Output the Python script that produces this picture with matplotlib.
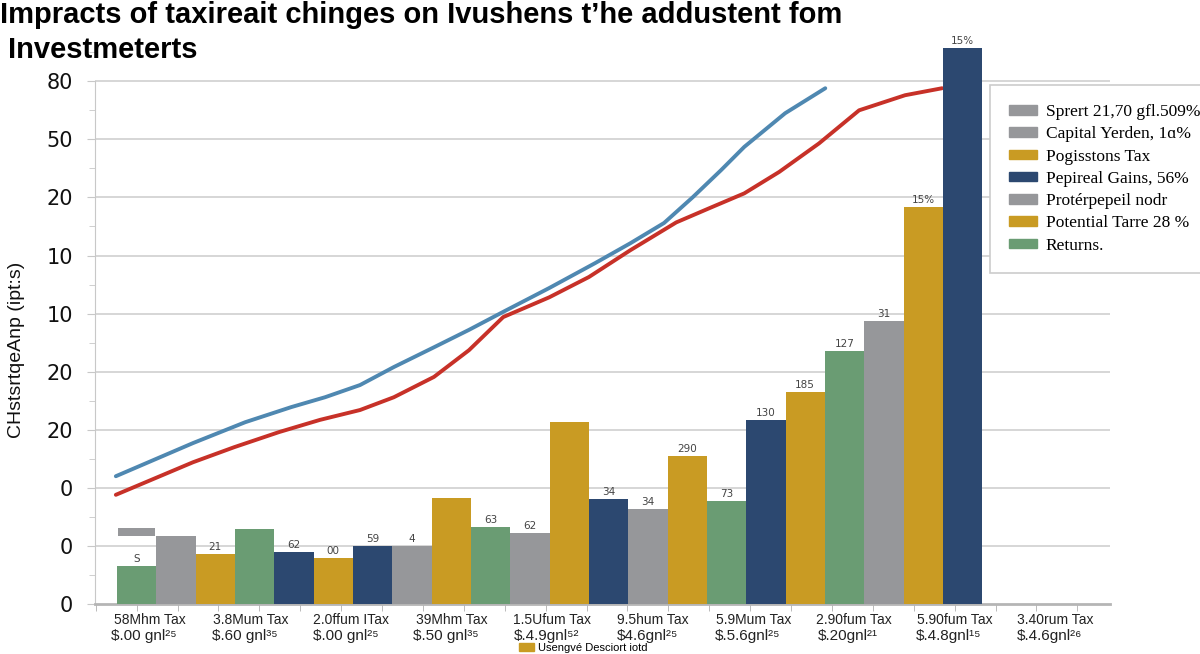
import numpy as np
import matplotlib.pyplot as plt
from matplotlib.patches import Patch
from matplotlib.ticker import MultipleLocator
import matplotlib.transforms as mtransforms

GREEN = "#6a9c73"
GRAY = "#96979a"
GOLD = "#c99b23"
NAVY = "#2c4870"
BLUE = "#4f88b1"
RED = "#c73128"

# bars (one per slot)
bar_colors = [GREEN, GRAY, GOLD, GREEN, NAVY, GOLD, NAVY, GRAY, GOLD, GREEN, GRAY,
              GOLD, NAVY, GRAY, GOLD, GREEN, NAVY, GOLD, GREEN, GRAY, GOLD, NAVY]
bar_heights = [0.65, 1.17, 0.86, 1.29, 0.89, 0.79, 1.00, 1.00, 1.82, 1.33, 1.22,
               3.13, 1.81, 1.64, 2.55, 1.77, 3.17, 3.65, 4.35, 4.87, 6.83, 9.57]
bar_labels = ["S", "", "21", "", "62", "00", "59", "4", "", "63", "62",
              "", "34", "34", "290", "73", "130", "185", "127", "31", "15%", "15%"]

# stray grey block floating over the first bar
stray_bottom = [1.17]
stray_height = [0.14]

# the two trend lines
blue_x = [-0.53, 1.43, 2.76, 3.93, 4.79, 5.68, 6.54, 7.56, 8.45, 9.32, 10.49,
          11.66, 12.55, 13.41, 14.15, 14.86, 15.45, 16.49, 17.51]
blue_y = [2.20, 2.77, 3.13, 3.39, 3.56, 3.77, 4.08, 4.42, 4.72, 5.03, 5.44,
          5.87, 6.21, 6.56, 7.01, 7.47, 7.87, 8.45, 8.88]
red_x = [-0.53, 1.43, 2.48, 3.62, 4.66, 5.68, 6.54, 7.56, 8.45, 9.32, 10.49,
         11.50, 12.55, 13.72, 14.58, 15.45, 16.34, 17.35, 18.37, 19.54, 20.48]
red_y = [1.88, 2.44, 2.70, 2.96, 3.17, 3.34, 3.56, 3.91, 4.37, 4.94, 5.28,
         5.63, 6.09, 6.57, 6.82, 7.07, 7.44, 7.93, 8.50, 8.76, 8.88]

y_tick_labels = ["0", "0", "0", "20", "20", "10", "10", "20", "50", "80"]

cat_top = ["58Mhm Tax", "3.8Mum Tax", "2.0ffum ITax", "39Mhm Tax", "1.5Ufum Tax",
           "9.5hum Tax", "5.9Mum Tax", "2.90fum Tax", "5.90fum Tax", "3.40rum Tax"]
cat_bottom = ["\\$.00 gnl²⁵", "\\$.60 gnl³⁵", "\\$.00 gnl²⁵", "\\$.50 gnl³⁵",
              "\\$.4.9gnl⁵²", "\\$4.6gnl²⁵", "\\$.5.6gnl²⁵", "\\$.20gnl²¹",
              "\\$.4.8gnl¹⁵", "\\$.4.6gnl²⁶"]

legend_labels = ["Sprert 21,70 gfl.509%", "Capital Yerden, 1ɑ%", "Pogisstons Tax",
                 "Pepireal Gains, 56%", "Protérpepeil nodr", "Potential Tarre 28 %",
                 "Returns."]
legend_colors = [GRAY, GRAY, GOLD, NAVY, GRAY, GOLD, GREEN]

fig = plt.figure(figsize=(12, 6.54), dpi=100)
ax = fig.add_axes([95 / 1200, 1 - 604 / 654, 1015 / 1200, 575 / 654])

x = np.arange(len(bar_heights))
bars = ax.bar(x, bar_heights, width=1.0, color=bar_colors, zorder=3, clip_on=False)
ax.bar([0], stray_height, bottom=stray_bottom, width=0.95, color=GRAY, zorder=3)

for b, lab in zip(bars, bar_labels):
    if lab:
        ax.annotate(lab, (b.get_x() + b.get_width() / 2, b.get_height()),
                    xytext=(0, 1.5), textcoords="offset points",
                    ha="center", va="bottom", fontsize=7.5, color="#444444",
                    annotation_clip=False)

ax.plot(blue_x, blue_y, color=BLUE, lw=2.8, zorder=2.5, solid_capstyle="round")
ax.plot(red_x, red_y, color=RED, lw=2.8, zorder=2.5, solid_capstyle="round")

ax.set_xlim(-1.06, 24.75)
ax.set_ylim(0, 9.9)

ax.set_yticks(range(10))
ax.set_yticklabels(y_tick_labels, fontsize=15, color="#111111")
ax.yaxis.set_minor_locator(MultipleLocator(0.5))
ax.tick_params(axis="y", which="major", length=6, color="#c8c8c8", pad=10)
ax.tick_params(axis="y", which="minor", length=4, color="#c8c8c8")

ax.set_xticks([])
ax.xaxis.set_minor_locator(MultipleLocator(1.04))
ax.tick_params(axis="x", which="minor", length=5, color="#b0b0b0", direction="out")

for yv in range(1, 10):
    ax.axhline(yv, color="#d3d3d3", lw=1.3, zorder=1)

for s in ["top", "right"]:
    ax.spines[s].set_visible(False)
ax.spines["left"].set_bounds(0, 9)
ax.spines["left"].set_color("#c8c8c8")
ax.spines["bottom"].set_color("#b5b5b5")
ax.spines["bottom"].set_linewidth(2)

# category labels under the axis
trans = mtransforms.blended_transform_factory(ax.transData, ax.transAxes)
cat_pos = np.linspace(0.34, 23.36, len(cat_top))
for p, t1, t2 in zip(cat_pos, cat_top, cat_bottom):
    ax.text(p, -0.016, t1, transform=trans, ha="center", va="top",
            fontsize=10, family="Liberation Sans", color="#222222")
    ax.text(p - 0.15, -0.043, t2, transform=trans, ha="center", va="top",
            fontsize=11, family="Liberation Sans", color="#222222")

handles = [Patch(color=c) for c in legend_colors]
leg = fig.legend(handles, legend_labels, loc="upper left",
                 bbox_to_anchor=(990 / 1200, 1 - 85 / 654), borderaxespad=0,
                 prop={"family": "Liberation Serif", "size": 12.5},
                 handlelength=1.6, handleheight=0.45, handletextpad=0.5,
                 labelspacing=0.36, borderpad=1.1, fancybox=False, framealpha=1,
                 edgecolor="#cccccc")
leg.get_frame().set_linewidth(1.2)

fig.legend([Patch(color=GOLD)], ["Usengvé Desciort iotd"], loc="center left",
           bbox_to_anchor=(515 / 1200, 1 - 648 / 654), frameon=False,
           prop={"family": "Liberation Sans", "size": 8},
           handlelength=1.3, handleheight=0.7, handletextpad=0.4, borderaxespad=0)

fig.text(0.0, 1 - 15 / 654,
         "Impracts of taxireait chinges on Ivushens t’he addustent fom",
         ha="left", va="center", fontsize=21, fontweight="bold",
         family=["Liberation Sans", "DejaVu Sans"])
fig.text(8 / 1200, 1 - 50 / 654, "Investmeterts",
         ha="left", va="center", fontsize=21, fontweight="bold",
         family=["Liberation Sans", "DejaVu Sans"])

fig.text(17 / 1200, 1 - 350 / 654, "CHstsrtqeAnp (ipt:s)", rotation=90,
         ha="center", va="center", fontsize=14, color="#111111",
         family="Liberation Sans")

fig.savefig("out.png", dpi=100)
